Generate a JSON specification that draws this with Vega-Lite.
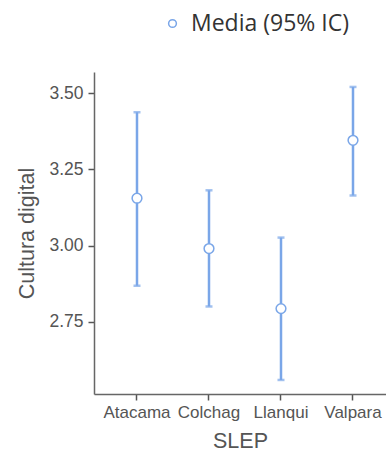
{
  "$schema": "https://vega.github.io/schema/vega-lite/v6.json",
  "autosize": "none",
  "width": 292,
  "height": 322,
  "padding": {"left": 94, "top": 72, "right": 0, "bottom": 64},
  "background": "white",
  "config": {
    "view": {"stroke": null},
    "axis": {"labelFont": "Liberation Sans", "titleFont": "Liberation Sans", "grid": false, "domain": true, "domainColor": "#666", "tickColor": "#555", "labelColor": "#555", "titleColor": "#555", "titleFontWeight": "normal", "domainWidth": 1.5, "tickWidth": 1.5}
  },
  "data": {"values": [
    {"SLEP": "Atacama", "mean": 3.155, "lower": 2.868, "upper": 3.437, "serie": "Media (95% IC)"},
    {"SLEP": "Colchag", "mean": 2.99, "lower": 2.80, "upper": 3.181, "serie": "Media (95% IC)"},
    {"SLEP": "Llanqui", "mean": 2.793, "lower": 2.559, "upper": 3.026, "serie": "Media (95% IC)"},
    {"SLEP": "Valpara", "mean": 3.345, "lower": 3.164, "upper": 3.52, "serie": "Media (95% IC)"}
  ]},
  "encoding": {
    "x": {"field": "SLEP", "type": "nominal", "scale": {"type": "band", "paddingInner": 0.0833, "paddingOuter": 0.0694, "align": 1},
      "axis": {"labelAngle": 0, "labelFontSize": 17, "titleFontSize": 21.5, "tickSize": 6, "labelPadding": 4, "titlePadding": 10, "domain": true, "domainColor": "#666", "domainWidth": 1.5}},
    "y": {"type": "quantitative"}
  },
  "layer": [
    {
      "mark": {"type": "rule", "color": "#7aa6e8", "strokeWidth": 2.5},
      "encoding": {
        "y": {"field": "lower", "type": "quantitative", "scale": {"domain": [2.513, 3.569], "nice": false, "zero": false},
          "axis": {"title": "Cultura digital", "values": [2.75, 3.0, 3.25, 3.5], "format": ".2f", "labelFontSize": 17.5, "titleFontSize": 21.5, "tickSize": 6, "labelPadding": 5, "titlePadding": 10}},
        "y2": {"field": "upper"}
      }
    },
    {
      "mark": {"type": "tick", "color": "#7aa6e8", "orient": "horizontal", "size": 7, "thickness": 2.5},
      "encoding": {"y": {"field": "lower", "type": "quantitative"}}
    },
    {
      "mark": {"type": "tick", "color": "#7aa6e8", "orient": "horizontal", "size": 7, "thickness": 2.5},
      "encoding": {"y": {"field": "upper", "type": "quantitative"}}
    },
    {
      "mark": {"type": "point", "shape": "circle", "filled": true, "fill": "white", "size": 95, "strokeWidth": 1.5, "opacity": 1},
      "encoding": {
        "y": {"field": "mean", "type": "quantitative"},
        "stroke": {"field": "serie", "type": "nominal", "scale": {"range": ["#7aa6e8"]},
          "legend": {"title": null, "orient": "none", "legendX": 67, "legendY": -60, "labelFont": "Open Sans", "labelFontSize": 23, "labelLimit": 0, "labelColor": "#333", "symbolType": "circle", "symbolSize": 60, "symbolFillColor": "white", "symbolStrokeColor": "#a9c4f0", "symbolStrokeWidth": 1.5, "labelOffset": 7}}
      }
    }
  ]
}
